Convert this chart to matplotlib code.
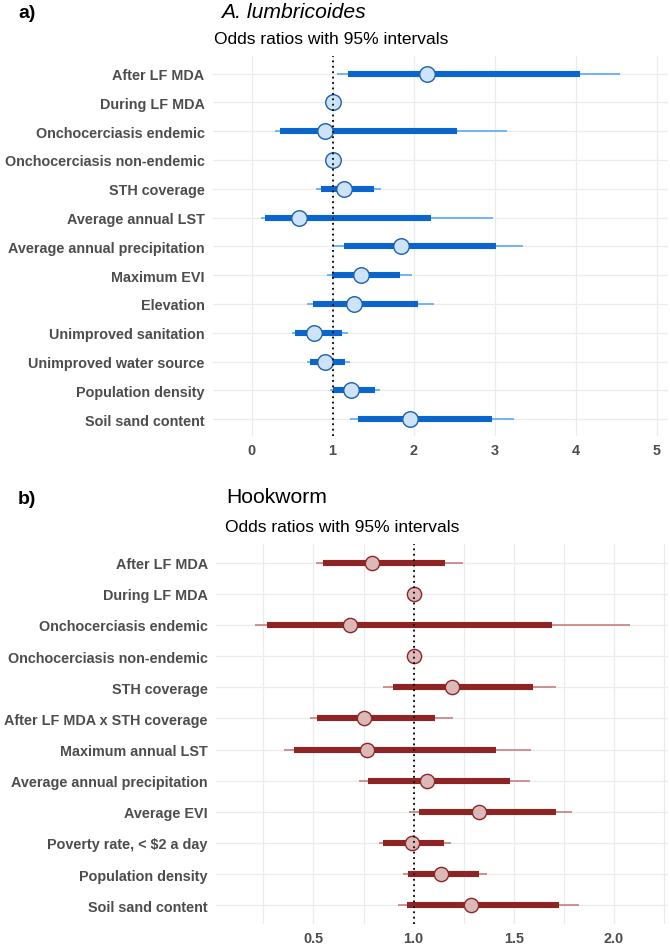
import numpy as np
import matplotlib
matplotlib.use("Agg")
from matplotlib import pyplot as plt

plt.rcParams['font.family'] = ['Liberation Sans', 'DejaVu Sans']

# panel a: A. lumbricoides
labels_a = ['After LF MDA', 'During LF MDA', 'Onchocerciasis endemic', 'Onchocerciasis non-endemic',
            'STH coverage', 'Average annual LST', 'Average annual precipitation', 'Maximum EVI',
            'Elevation', 'Unimproved sanitation', 'Unimproved water source', 'Population density',
            'Soil sand content']
or_a = [2.16, 1.0, 0.90, 1.0, 1.14, 0.58, 1.85, 1.35, 1.26, 0.77, 0.91, 1.23, 1.95]
lo50_a = [1.19, np.nan, 0.35, np.nan, 0.86, 0.16, 1.14, 0.99, 0.76, 0.53, 0.72, 1.01, 1.31]
hi50_a = [4.05, np.nan, 2.53, np.nan, 1.51, 2.22, 3.02, 1.83, 2.05, 1.11, 1.15, 1.52, 2.97]
lo95_a = [1.06, np.nan, 0.29, np.nan, 0.80, 0.12, 1.01, 0.93, 0.68, 0.50, 0.68, 0.97, 1.21]
hi95_a = [4.55, np.nan, 3.15, np.nan, 1.60, 2.98, 3.35, 1.98, 2.25, 1.19, 1.21, 1.58, 3.24]

# panel b: Hookworm
labels_b = ['After LF MDA', 'During LF MDA', 'Onchocerciasis endemic', 'Onchocerciasis non-endemic',
            'STH coverage', 'After LF MDA x STH coverage', 'Maximum annual LST',
            'Average annual precipitation', 'Average EVI', 'Poverty rate, < $2 a day',
            'Population density', 'Soil sand content']
or_b = [0.793, 1.0, 0.68, 1.0, 1.19, 0.753, 0.765, 1.065, 1.327, 0.993, 1.137, 1.285]
lo50_b = [0.55, np.nan, 0.267, np.nan, 0.895, 0.52, 0.403, 0.77, 1.027, 0.848, 0.97, 0.968]
hi50_b = [1.155, np.nan, 1.69, np.nan, 1.598, 1.107, 1.41, 1.483, 1.71, 1.152, 1.328, 1.727]
lo95_b = [0.513, np.nan, 0.208, np.nan, 0.847, 0.483, 0.353, 0.725, 0.975, 0.828, 0.945, 0.923]
hi95_b = [1.245, np.nan, 2.08, np.nan, 1.713, 1.197, 1.588, 1.583, 1.79, 1.188, 1.367, 1.827]


def forest(ax, labels, est, lo50, hi50, lo95, hi95, thin_c, thick_c, face_c, edge_c, msize):
    y = np.arange(len(labels))
    ax.hlines(y, lo95, hi95, color=thin_c, lw=1.2, zorder=2, capstyle='butt')
    ax.hlines(y, lo50, hi50, color=thick_c, lw=4.4, zorder=3, capstyle='butt')
    ax.scatter(est, y, s=msize, facecolor=face_c, edgecolor=edge_c, linewidth=1.0, zorder=4)
    ax.axvline(1, color='black', lw=1.3, linestyle=(0, (1, 2.0)), zorder=5)
    ax.set_yticks(y)
    ax.set_yticklabels(labels)
    ax.set_ylim(len(labels) - 1 + 0.6, -0.6)
    for s in ax.spines.values():
        s.set_visible(False)
    ax.grid(True, which='both', color='#ebebeb', lw=0.9, zorder=0)
    ax.set_axisbelow(True)
    ax.tick_params(axis='both', which='both', length=0, labelcolor='#4d4d4d', labelsize=10.4)
    ax.tick_params(axis='y', pad=6)
    ax.tick_params(axis='x', pad=5)
    for t in ax.get_xticklabels() + ax.get_yticklabels():
        t.set_fontweight('bold')


fig = plt.figure(figsize=(6.7, 9.45), dpi=100)

ax1 = fig.add_axes([0.3175, 0.5372, 0.6795, 0.4021])
ax1.set_xlim(-0.48, 5.14)
ax1.set_xticks([0, 1, 2, 3, 4, 5])
forest(ax1, labels_a, or_a, lo50_a, hi50_a, lo95_a, hi95_a,
       '#5aa9f7', '#0a66cc', '#cde3f7', '#1b5fae', 125)

ax2 = fig.add_axes([0.3224, 0.0212, 0.6746, 0.4021])
ax2.set_xlim(0.0135, 2.27)
ax2.set_xticks([0.5, 1.0, 1.5, 2.0])
ax2.set_xticklabels(['0.5', '1.0', '1.5', '2.0'])
ax2.set_xticks([0.25, 0.75, 1.25, 1.75, 2.25], minor=True)
forest(ax2, labels_b, or_b, lo50_b, hi50_b, lo95_b, hi95_b,
       '#c97f7f', '#8e2424', '#dcb9b9', '#8e2424', 105)

# titles
fig.text(18 / 670, 1 - 13 / 945, 'a)', fontsize=14, fontweight='bold', va='center', ha='left')
fig.text(221 / 670, 1 - 12 / 945, 'A. lumbricoides', fontsize=15.2, style='italic', va='center', ha='left')
fig.text(214 / 670, 1 - 40 / 945, 'Odds ratios with 95% intervals', fontsize=12.5, va='center', ha='left')
fig.text(18 / 670, 1 - 500 / 945, 'b)', fontsize=14, fontweight='bold', va='center', ha='left')
fig.text(226 / 670, 1 - 498 / 945, 'Hookworm', fontsize=15.2, va='center', ha='left')
fig.text(225 / 670, 1 - 528 / 945, 'Odds ratios with 95% intervals', fontsize=12.5, va='center', ha='left')

plt.savefig('out.png', dpi=100)
